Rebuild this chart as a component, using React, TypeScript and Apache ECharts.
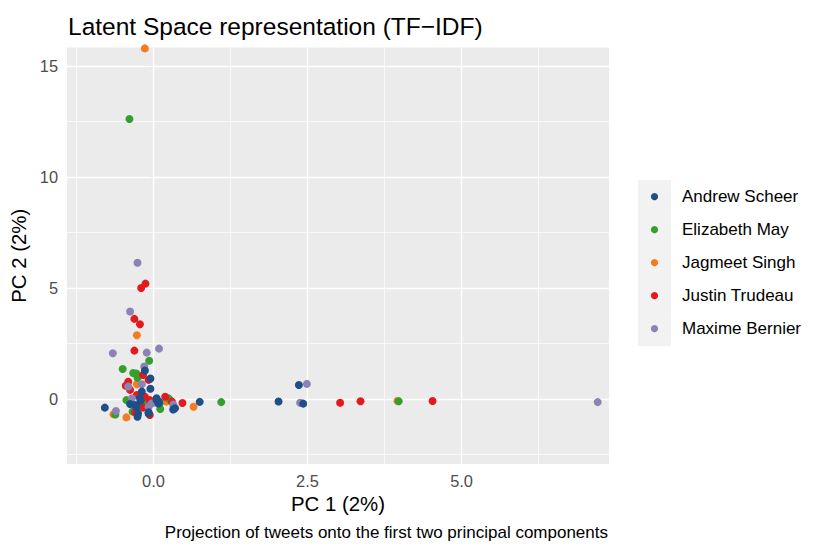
import React, { useEffect, useRef } from "react";
import * as echarts from "echarts";

const names = ["Andrew Scheer", "Elizabeth May", "Jagmeet Singh", "Justin Trudeau", "Maxime Bernier"];
const colors = ["#1F4E89", "#33A02C", "#F57A21", "#E31A1C", "#8C82B6"];

const scheer: number[][] = [
  [-0.14, 1.28], [-0.05, 0.92], [-0.05, 0.46], [-0.19, 0.33], [-0.22, 0.03], [-0.3, -0.27],
  [-0.25, -0.65], [-0.79, -0.39], [-0.26, -0.8], [-0.08, -0.65], [0.05, -0.05], [0.08, -0.2],
  [0.35, -0.42], [0.75, -0.13], [2.03, -0.11], [2.36, 0.63], [2.43, -0.21], [0.05, 0.03],
  [0.09, -0.12], [-0.28, -0.35], [-0.21, -0.08], [-0.38, -0.23], [-0.08, -0.6], [0.32, -0.47],
];
const may: number[][] = [
  [-0.39, 12.62], [-0.07, 1.72], [-0.5, 1.35], [-0.33, 1.17], [-0.28, 1.15], [-0.26, 0.96],
  [-0.44, -0.05], [-0.11, -0.12], [-0.25, -0.35], [0.11, -0.45], [0.24, 0.03], [0.27, -0.05],
  [1.1, -0.14], [3.98, -0.1], [-0.62, -0.7], [-0.34, -0.57], [0.1, -0.2],
];
const singh: number[][] = [
  [-0.14, 15.8], [-0.27, 2.87], [-0.27, 0.66], [-0.65, -0.69], [-0.44, -0.83], [0.21, -0.12],
  [0.65, -0.35], [3.96, -0.09], [-0.2, 0.2], [0.02, -0.15],
];
const trudeau: number[][] = [
  [-0.13, 5.2], [-0.2, 5.0], [-0.31, 3.61], [-0.22, 3.37], [-0.31, 2.18], [-0.17, 1.08],
  [-0.41, 0.78], [-0.08, 0.86], [-0.38, 0.41], [-0.27, 0.18], [-0.14, 0.1], [-0.06, -0.05],
  [-0.17, -0.39], [-0.06, -0.72], [0.19, 0.1], [0.3, -0.12], [0.47, -0.18], [3.03, -0.17],
  [3.36, -0.1], [4.53, -0.09], [-0.45, 0.6], [-0.3, -0.6],
];
const bernier: number[][] = [
  [-0.26, 6.14], [-0.38, 3.94], [-0.66, 2.06], [-0.11, 2.09], [0.09, 2.27], [-0.15, 1.46],
  [-0.41, 0.56], [-0.35, 0.03], [-0.08, -0.35], [-0.03, -0.2], [0.32, -0.25], [-0.61, -0.54],
  [2.49, 0.68], [2.38, -0.17], [7.21, -0.14], [-0.19, 0.66],
];

const xTicks = [0, 2.5, 5];
const yTicks = [0, 5, 10, 15];
const xMinor = [-1.25, 1.25, 3.75, 6.25];
const yMinor = [-2.5, 2.5, 7.5, 12.5];

const FONT = "'Liberation Sans', Arial, Helvetica, sans-serif";

export default function App() {
  const ref = useRef<HTMLDivElement>(null);
  useEffect(() => {
    document.body.style.margin = "0";
    if (!ref.current) return;
    const chart = echarts.init(ref.current, null, { renderer: "svg" });
    const dataSets = [scheer, may, singh, trudeau, bernier];
    const drawOrder = [2, 1, 3, 4, 0];
    const scatterSeries = drawOrder.map((i, k) => ({
      type: "scatter",
      name: names[i],
      data: dataSets[i],
      symbol: "circle",
      symbolSize: 8,
      itemStyle: { color: colors[i], opacity: 1 },
      z: 3 + k,
      silent: true,
    }));
    const gridSeries = {
      type: "line",
      name: "grid",
      data: [],
      z: 1,
      silent: true,
      markLine: {
        silent: true,
        z: 1,
        symbol: ["none", "none"],
        label: { show: false },
        animation: false,
        data: [
          ...xMinor.map((v) => ({ xAxis: v, lineStyle: { color: "#FFFFFF", width: 0.7, type: "solid" } })),
          ...yMinor.map((v) => ({ yAxis: v, lineStyle: { color: "#FFFFFF", width: 0.7, type: "solid" } })),
          ...xTicks.map((v) => ({ xAxis: v, lineStyle: { color: "#FFFFFF", width: 1.4, type: "solid" } })),
          ...yTicks.map((v) => ({ yAxis: v, lineStyle: { color: "#FFFFFF", width: 1.4, type: "solid" } })),
        ],
      },
    };
    const legendTop = 196.7;
    const legendStep = 33;
    const legendGraphics: any[] = [
      {
        type: "rect",
        left: 638,
        top: 180,
        shape: { width: 33, height: 166 },
        style: { fill: "#F2F2F2" },
        z: 10,
        silent: true,
      },
    ];
    names.forEach((n, i) => {
      legendGraphics.push({
        type: "circle",
        shape: { cx: 654.5, cy: legendTop + i * legendStep, r: 3.6 },
        style: { fill: colors[i] },
        z: 11,
        silent: true,
      });
      legendGraphics.push({
        type: "text",
        x: 682,
        y: legendTop + i * legendStep,
        style: {
          text: n,
          fontFamily: FONT,
          fontSize: 17,
          fill: "#000000",
          verticalAlign: "middle",
          align: "left",
        },
        z: 11,
        silent: true,
      });
    });
    chart.setOption({
      animation: false,
      backgroundColor: "#FFFFFF",
      textStyle: { fontFamily: FONT },
      title: {
        text: "Latent Space representation (TF\u2212IDF)",
        left: 68,
        top: 14,
        padding: 0,
        textStyle: { fontFamily: FONT, fontSize: 24.5, fontWeight: "normal", color: "#000000" },
      },
      grid: {
        left: 67,
        right: 209,
        top: 47.5,
        bottom: 83,
        show: true,
        backgroundColor: "#EBEBEB",
        borderWidth: 0,
      },
      xAxis: {
        type: "value",
        min: -1.404,
        max: 7.394,
        name: "PC 1 (2%)",
        nameLocation: "middle",
        nameGap: 30,
        nameTextStyle: { fontFamily: FONT, fontSize: 20.4, color: "#000000" },
        axisLine: { show: false },
        splitLine: { show: false },
        axisTick: { show: true, customValues: xTicks, length: 5, lineStyle: { color: "#333333", width: 1.1 } },
        axisLabel: {
          customValues: xTicks,
          formatter: (v: number) => v.toFixed(1),
          fontFamily: FONT,
          fontSize: 16.4,
          color: "#4D4D4D",
          margin: 9,
        },
      },
      yAxis: {
        type: "value",
        min: -2.93,
        max: 15.84,
        name: "PC 2 (2%)",
        nameLocation: "middle",
        nameGap: 33,
        nameRotate: 90,
        nameTextStyle: { fontFamily: FONT, fontSize: 20.4, color: "#000000" },
        axisLine: { show: false },
        splitLine: { show: false },
        axisTick: { show: true, customValues: yTicks, length: 5, lineStyle: { color: "#333333", width: 1.1 } },
        axisLabel: {
          customValues: yTicks,
          formatter: (v: number) => String(v),
          fontFamily: FONT,
          fontSize: 16.4,
          color: "#4D4D4D",
          margin: 9,
        },
      },
      graphic: [
        ...legendGraphics,
        {
          type: "text",
          right: 818 - 608,
          top: 524,
          style: {
            text: "Projection of tweets onto the first two principal components",
            fontFamily: FONT,
            fontSize: 17,
            fill: "#000000",
          },
          silent: true,
        },
      ],
      series: [gridSeries, ...scatterSeries],
    });
    return () => chart.dispose();
  }, []);
  return <div ref={ref} style={{ width: 818, height: 547 }} />;
}
